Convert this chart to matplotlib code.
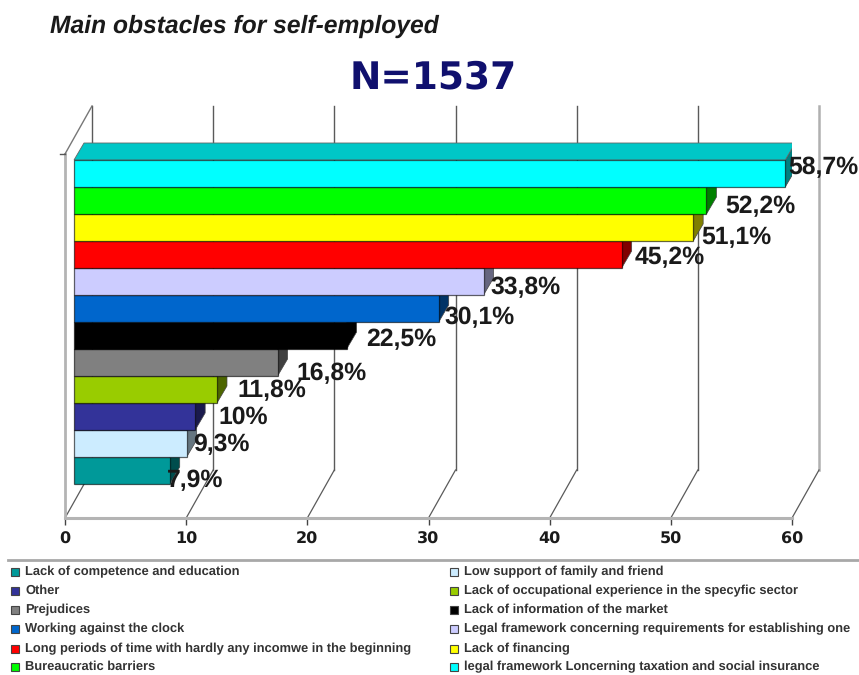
import matplotlib
matplotlib.use('Agg')
import matplotlib.pyplot as plt
from matplotlib.patches import Polygon, Rectangle
from matplotlib.colors import to_rgb

plt.rcParams['text.hinting'] = 'no_hinting'

categories = ['Lack of competence and education', 'Low support of family and friend', 'Other',
              'Lack of occupational experience in the specyfic sector', 'Prejudices',
              'Lack of information of the market', 'Working against the clock',
              'Legal framework concerning requirements for establishing one',
              'Long periods of time with hardly any incomwe in the beginning', 'Lack of financing',
              'Bureaucratic barriers', 'legal framework Loncerning taxation and social insurance']
values = [7.9, 9.3, 10, 11.8, 16.8, 22.5, 30.1, 33.8, 45.2, 51.1, 52.2, 58.7]
value_labels = ['7,9%', '9,3%', '10%', '11,8%', '16,8%', '22,5%', '30,1%', '33,8%', '45,2%', '51,1%', '52,2%', '58,7%']
colors = ['#009999', '#CCECFF', '#333399', '#99CC00', '#808080', '#000000',
          '#0066CC', '#CCCCFF', '#FF0000', '#FFFF00', '#00FF00', '#00FFFF']
x_ticks = [0, 10, 20, 30, 40, 50, 60]

# nudges of the value labels away from the bar ends, in pixels
label_dx = [-3, 6, 23, 20, 19, 20, 6, 7, 13, 8, 19, 3]
label_dy = [9, 0, 0, 0, 10, 3, 8, 5, 2, 9, 5, -7]

W, H = 859, 675
fig = plt.figure(figsize=(W / 100, H / 100), dpi=100)
fig.patch.set_facecolor('white')

# plot box in pixels: front floor runs 65-792 at y=518, walls go up to y=106
ax = fig.add_axes([65 / W, 1 - 518 / H, (792 - 65) / W, (518 - 106) / H])
ax.set_xlim(0, 60)
ax.set_ylim((470.5 - 518) / 27, (470.5 - 106) / 27)
ax.patch.set_visible(False)
for s in ['top', 'left', 'right']:
    ax.spines[s].set_visible(False)
ax.spines['bottom'].set_color('#b4b4b4')
ax.spines['bottom'].set_linewidth(2.2)

ppx = 60 / (792 - 65)  # value units per pixel
ppy = 1 / 27           # bar slots per pixel
wall_dx, wall_dy = 27 * ppx, 48 * ppy
bar_start = 9 * ppx
bar_dx, bar_dy = 10 * ppx, 17 * ppy
y0 = ax.get_ylim()[0]
y1 = ax.get_ylim()[1]

# walls and grid
for t in x_ticks:
    ax.plot([t + wall_dx] * 2, [y0 + wall_dy, y1], color='#5a5a5a' if t != 60 else '#b0b0b0',
            lw=1 if t != 60 else 1.8, clip_on=False, zorder=1)
    ax.plot([t, t + wall_dx], [y0, y0 + wall_dy], color='#5a5a5a', lw=0.9, clip_on=False, zorder=1)
ax.plot([0, 0], [y0, y1 - wall_dy], color='#b4b4b4', lw=2, clip_on=False, zorder=1)
ax.plot([0, wall_dx], [y1 - wall_dy, y1], color='#777777', lw=1, clip_on=False, zorder=1)
ax.plot([-5 * ppx, 0], [y1 - wall_dy] * 2, color='#555555', lw=1, clip_on=False, zorder=1)

# 3D bars, lowest first so every upper bar covers the one below
for i, (v, c) in enumerate(zip(values, colors)):
    z = 2 + i
    rgb = to_rgb(c)
    side = tuple(k * 0.5 for k in rgb)
    end = bar_start + v
    ax.add_patch(Polygon([(end, i - .5), (end + bar_dx, i - .5 + bar_dy), (end + bar_dx, i + .5 + bar_dy), (end, i + .5)],
                         facecolor=side, edgecolor='#444444', lw=0.5, zorder=z))
    if i == len(values) - 1:
        top = tuple(k * 0.78 for k in rgb)
        ax.add_patch(Polygon([(bar_start, i + .5), (bar_start + bar_dx, i + .5 + bar_dy), (end + bar_dx, i + .5 + bar_dy), (end, i + .5)],
                             facecolor=top, edgecolor='#666666', lw=0.6, zorder=z))
    ax.barh(i, v, height=1, left=bar_start, color=c, edgecolor=(0, 0, 0, 0.6), lw=0.9, zorder=z + 0.5)

for i, v in enumerate(values):
    ax.text(bar_start + v + label_dx[i] * ppx, i - (label_dy[i] + 1) * ppy, value_labels[i],
            fontsize=17.8, fontweight='bold', family='Liberation Sans', color='#1a1a1a',
            ha='left', va='center', zorder=30, clip_on=False)

ax.set_yticks([])
ax.set_xticks(x_ticks)
ax.tick_params(axis='x', length=5, width=1, color='#444444', pad=5)
for lab in ax.get_xticklabels():
    lab.set_fontsize(11.5)
    lab.set_fontweight('bold')
    lab.set_color('#1a1a1a')

fig.text(50 / W, 1 - 26 / H, 'Main obstacles for self-employed', fontsize=17.7, fontweight='bold',
         style='italic', family='Liberation Sans', color='#1a1a1a', va='center')
fig.text(433 / W, 1 - 78 / H, 'N=1537', fontsize=27, fontweight='bold', family='DejaVu Sans',
         color='#10106e', ha='center', va='center')

# legend strip under the chart
fig.add_artist(plt.Line2D([8 / W, 858 / W], [1 - 560 / H] * 2, color='#a8a8a8', lw=2))
rows = [572, 591, 610, 629, 649, 667]
for i, (name, c) in enumerate(zip(categories, colors)):
    col = i % 2
    y = rows[i // 2]
    mx = 11 if col == 0 else 450
    fig.add_artist(Rectangle((mx / W, 1 - (y + 4) / H), 8 / W, 8 / H, transform=fig.transFigure,
                             facecolor=c, edgecolor='#444444', lw=0.8))
    fig.text((mx + 14) / W, 1 - y / H, name, fontsize=9.3, family='Liberation Sans', fontweight='bold',
             color='#333333', va='center')

fig.savefig('out.png', dpi=100)
